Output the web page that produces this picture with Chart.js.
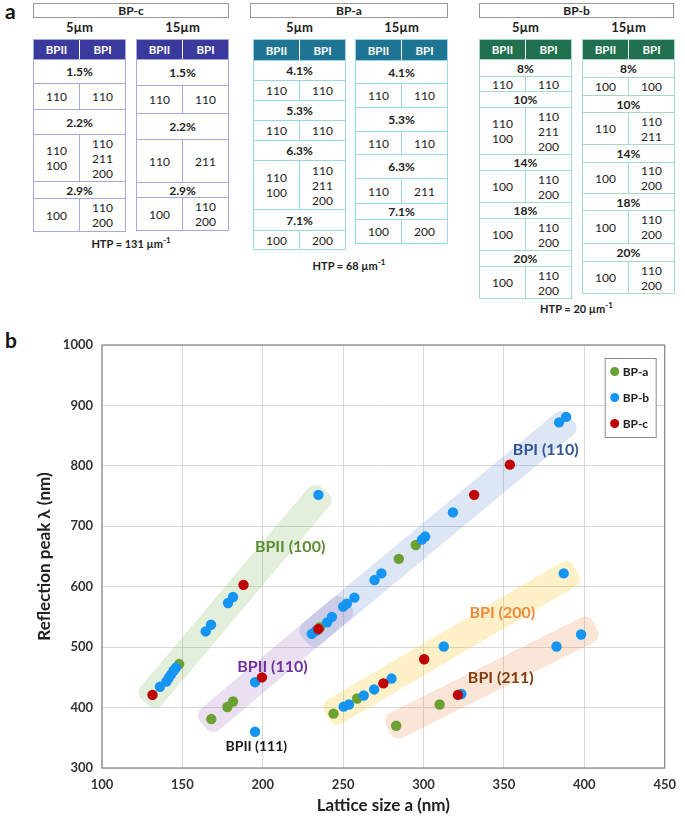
<!DOCTYPE html>
<html>
<head>
<meta charset="utf-8">
<script src="https://cdn.jsdelivr.net/npm/chart.js@4"></script>
<style>
  body { margin: 0; background: #fff; font-family: Lato, "Noto Sans", sans-serif; color: #222; }
  #page { position: relative; width: 685px; height: 822px; overflow: hidden; }
  .abs { position: absolute; }
  .panel { font-weight: bold; font-size: 21px; color: #111; }
  .gbox { border: 1px solid #9a9a9a; box-sizing: border-box; height: 15px; text-align: center;
          font-weight: bold; font-size: 12px; line-height: 13px; }
  .sub { font-weight: bold; font-size: 13px; text-align: center; width: 93px; }
  .tbl { box-sizing: border-box; width: 93px; border: 1.5px solid; display: flex; flex-direction: column; }
  .row { display: flex; box-sizing: border-box; border-top: 1px solid; }
  .row:first-child { border-top: none; }
  .cell { flex: 1; display: flex; align-items: center; justify-content: center; text-align: center;
          font-size: 12px; line-height: 15px; }
  .cell + .cell { border-left: 1px solid; }
  .hd .cell { color: #fff; font-weight: bold; font-size: 11.5px; }
  .pct { font-weight: bold; }
  .htp { font-weight: bold; font-size: 11px; text-align: center; width: 140px; }
</style>
</head>
<body>
<div id="page">
  <div class="abs panel" style="left:5px;top:-2px">a</div>
  <div class="abs panel" style="left:5px;top:327px">b</div>
  <div id="tables"></div>
  <canvas id="scatterChart" class="abs" width="685" height="502" style="left:0;top:320px"></canvas>
</div>
<script>
// ---- panel a: phase tables ----
var bpcRows5 = [['1.5%', ['110'], ['110']], ['2.2%', ['110', '100'], ['110', '211', '200']], ['2.9%', ['100'], ['110', '200']]];
var bpcRows15 = [['1.5%', ['110'], ['110']], ['2.2%', ['110'], ['211']], ['2.9%', ['100'], ['110', '200']]];
var bpaRows5 = [['4.1%', ['110'], ['110']], ['5.3%', ['110'], ['110']], ['6.3%', ['110', '100'], ['110', '211', '200']], ['7.1%', ['100'], ['200']]];
var bpaRows15 = [['4.1%', ['110'], ['110']], ['5.3%', ['110'], ['110']], ['6.3%', ['110'], ['211']], ['7.1%', ['100'], ['200']]];
var bpbRows5 = [['8%', ['110'], ['110']], ['10%', ['110', '100'], ['110', '211', '200']], ['14%', ['100'], ['110', '200']], ['18%', ['100'], ['110', '200']], ['20%', ['100'], ['110', '200']]];
var bpbRows15 = [['8%', ['100'], ['100']], ['10%', ['110'], ['110', '211']], ['14%', ['100'], ['110', '200']], ['18%', ['100'], ['110', '200']], ['20%', ['100'], ['110', '200']]];

// row heights (header first), layout only
var bpcH5 = [19, 24, 26, 25, 47, 17, 33];
var bpcH15 = [19, 26, 28, 26, 43, 15, 33];
var bpaH5 = [20, 20, 20, 20, 20, 20, 49, 21, 19];
var bpaH15 = [20, 23, 24, 24, 23, 24, 25, 16, 24];
var bpbH5 = [19, 17, 15, 16, 47, 16, 32, 16, 32, 16, 32];
var bpbH15 = [19, 18, 18, 17, 32, 18, 31, 17, 33, 18, 32];

var groups = [
  { name: 'BP-c', htp: '131', x: 33, w: 196, head: '#3a3a9e', line: '#a4a8dd', cols: [33, 136],
    rows: [bpcRows5, bpcRows15], heights: [bpcH5, bpcH15], htpY: 235 },
  { name: 'BP-a', htp: '68', x: 250, w: 198, head: '#1d7593', line: '#9bd6e9', cols: [253, 355],
    rows: [bpaRows5, bpaRows15], heights: [bpaH5, bpaH15], htpY: 257 },
  { name: 'BP-b', htp: '20', x: 479, w: 195, head: '#21704f', line: '#a5dcc6', cols: [479, 582],
    rows: [bpbRows5, bpbRows15], heights: [bpbH5, bpbH15], htpY: 300 }
];
var sizes = ['5\u00b5m', '15\u00b5m'];

var holder = document.getElementById('tables');
groups.forEach(function(g) {
  var html = '<div class="abs gbox" style="left:' + g.x + 'px;top:3px;width:' + g.w + 'px">' + g.name + '</div>';
  g.cols.forEach(function(cx, t) {
    html += '<div class="abs sub" style="left:' + cx + 'px;top:19px">' + sizes[t] + '</div>';
    var h = g.heights[t];
    var s = '<div class="abs tbl" style="left:' + cx + 'px;top:39px;border-color:' + g.line + '">';
    s += '<div class="row hd" style="height:' + h[0] + 'px;background:' + g.head + '">' +
         '<div class="cell" style="border-color:#fff">BPII</div><div class="cell" style="border-color:#fff">BPI</div></div>';
    var k = 1;
    g.rows[t].forEach(function(r) {
      s += '<div class="row" style="height:' + h[k++] + 'px;border-color:' + g.line + '"><div class="cell pct">' + r[0] + '</div></div>';
      s += '<div class="row" style="height:' + h[k++] + 'px;border-color:' + g.line + '">' +
           '<div class="cell" style="border-color:' + g.line + '">' + r[1].join('<br>') + '</div>' +
           '<div class="cell" style="border-color:' + g.line + '">' + r[2].join('<br>') + '</div></div>';
    });
    s += '</div>';
    html += s;
  });
  html += '<div class="abs htp" style="left:' + (g.x + g.w / 2 - 70) + 'px;top:' + g.htpY + 'px">HTP = ' + g.htp +
          ' \u00b5m<sup style="font-size:8px">-1</sup></div>';
  holder.insertAdjacentHTML('beforeend', html);
});

// ---- panel b: scatter data ----
var bpaX = [148, 178, 181.5, 168, 235.6, 244, 258.7, 284.6, 295.2, 283, 310];
var bpaY = [472, 401, 410, 381, 533, 390, 415, 646, 669, 370, 405];

var bpbX = [136, 140, 141.5, 143, 144.5, 146, 164.5, 167.8, 178.4, 181.5, 234.6,
            195.2, 230.5, 233, 240, 243, 250, 252.3,
            195.2,
            257, 269.5, 273.8, 299, 301, 318.3, 384.3, 388.7,
            250.3, 253.6, 262.8, 269.3, 280.1, 312.6, 387.2,
            323.5, 382.7, 398];
var bpbY = [434.5, 443, 449, 455, 461, 466, 526, 537, 573, 583, 752,
            442, 522, 527, 541, 550, 567, 572,
            360,
            582, 611, 622, 678, 683, 723, 872, 881,
            401.5, 405, 420, 430, 448, 501, 622,
            422.5, 501, 521];

var bpcX = [131.4, 188, 199.5, 234.6, 331.5, 353.7, 275, 300.4, 321.4];
var bpcY = [421, 603, 450, 530, 752, 802, 440, 480, 421];

var xTicks = [100, 150, 200, 250, 300, 350, 400, 450];
var yTicks = [300, 400, 500, 600, 700, 800, 900, 1000];

// shaded guide bands (data units: start, end) and group labels
var bandNames = ['BPII (100)', 'BPII (110)', 'BPI (110)', 'BPI (200)', 'BPI (211)'];
var bandStart = [[127, 408], [163, 371], [226, 512], [240, 386], [278, 364]];
var bandEnd = [[238.5, 760], [253, 573], [392, 879], [395, 628], [407, 535]];
var bandColor = ['rgba(112,173,71,0.2)', 'rgba(112,48,160,0.15)', 'rgba(68,114,196,0.18)', 'rgba(255,192,0,0.22)', 'rgba(237,125,49,0.2)'];

var labelText = ['BPII (100)', 'BPII (110)', 'BPII (111)', 'BPI (110)', 'BPI (200)', 'BPI (211)'];
var labelX = [217, 206, 196, 376, 349, 348];
var labelY = [666, 467, 336, 826, 557, 449];
var labelColor = ['#5a8a32', '#7030a0', '#1a1a1a', '#2f5597', '#f08a3c', '#843c0c'];

function pts(xs, ys) {
  return xs.map(function(x, i) { return { x: x, y: ys[i] }; });
}

var overlay = {
  id: 'overlay',
  beforeDatasetsDraw: function(chart) {
    var ctx = chart.ctx, xs = chart.scales.x, ys = chart.scales.y;
    ctx.save();
    bandStart.forEach(function(s, i) {
      var x1 = xs.getPixelForValue(s[0]), y1 = ys.getPixelForValue(s[1]);
      var x2 = xs.getPixelForValue(bandEnd[i][0]), y2 = ys.getPixelForValue(bandEnd[i][1]);
      var len = Math.hypot(x2 - x1, y2 - y1);
      ctx.save();
      ctx.translate(x1, y1);
      ctx.rotate(Math.atan2(y2 - y1, x2 - x1));
      ctx.fillStyle = bandColor[i];
      ctx.beginPath();
      ctx.roundRect(0, -14, len, 28, 9);
      ctx.fill();
      ctx.restore();
    });
    ctx.restore();
  },
  afterDatasetsDraw: function(chart) {
    var ctx = chart.ctx, xs = chart.scales.x, ys = chart.scales.y, a = chart.chartArea;
    ctx.save();
    ctx.textAlign = 'center';
    ctx.textBaseline = 'middle';
    labelText.forEach(function(t, i) {
      ctx.font = 'bold ' + (i === 2 ? 14 : 16) + 'px Lato';
      ctx.fillStyle = labelColor[i];
      ctx.fillText(t, xs.getPixelForValue(labelX[i]), ys.getPixelForValue(labelY[i]));
    });
    // frame
    ctx.strokeStyle = '#8c8c8c';
    ctx.lineWidth = 1.3;
    ctx.strokeRect(a.left, a.top, a.right - a.left, a.bottom - a.top);
    // legend box
    var lx = a.right - 60, ly = a.top + 13;
    ctx.fillStyle = '#fff';
    ctx.fillRect(lx, ly, 51, 79);
    ctx.strokeStyle = '#8c8c8c';
    ctx.lineWidth = 1;
    ctx.strokeRect(lx + 0.5, ly + 0.5, 51, 79);
    ctx.textAlign = 'left';
    ctx.font = 'bold 12px Lato';
    chart.data.datasets.forEach(function(d, i) {
      var cy = ly + 13.5 + i * 26;
      ctx.fillStyle = d.backgroundColor;
      ctx.beginPath();
      ctx.arc(lx + 10, cy, 4.5, 0, Math.PI * 2);
      ctx.fill();
      ctx.fillStyle = '#222';
      ctx.fillText(d.label, lx + 18, cy + 1);
    });
    ctx.restore();
  }
};

Chart.defaults.font.family = 'Lato';

var ctx = document.getElementById('scatterChart').getContext('2d');
var scatterChart = new Chart(ctx, {
  type: 'scatter',
  data: {
    datasets: [
      { label: 'BP-a', data: pts(bpaX, bpaY), backgroundColor: '#6aa132', order: 3 },
      { label: 'BP-b', data: pts(bpbX, bpbY), backgroundColor: '#1495f3', order: 2 },
      { label: 'BP-c', data: pts(bpcX, bpcY), backgroundColor: '#c00000', order: 1 }
    ]
  },
  options: {
    responsive: false,
    devicePixelRatio: 1,
    animation: false,
    layout: { padding: { top: 25, right: 12, left: 0, bottom: 0 } },
    elements: { point: { radius: 5.2, borderWidth: 0, hoverRadius: 5.2 } },
    plugins: { legend: { display: false }, tooltip: { enabled: false } },
    scales: {
      x: {
        type: 'linear', min: 100, max: 450,
        afterBuildTicks: function(s) { s.ticks = xTicks.map(function(v) { return { value: v }; }); },
        afterFit: function(s) { s.height = 54; },
        grid: { color: '#d9d9d9', drawTicks: false },
        border: { display: false },
        ticks: { padding: 9, color: '#333', font: { size: 13, weight: 'bold' },
                 callback: function(v) { return String(v); } },
        title: { display: true, text: 'Lattice size a (nm)', color: '#222',
                 font: { size: 17, weight: 'bold' }, padding: { top: 0, bottom: 6 } }
      },
      y: {
        type: 'linear', min: 300, max: 1000,
        afterBuildTicks: function(s) { s.ticks = yTicks.map(function(v) { return { value: v }; }); },
        afterFit: function(s) { s.width = 102; },
        grid: { color: '#d9d9d9', drawTicks: false },
        border: { display: false },
        ticks: { padding: 9, color: '#333', font: { size: 13, weight: 'bold' },
                 callback: function(v) { return String(v); } },
        title: { display: true, text: 'Reflection peak \u03bb (nm)', color: '#222',
                 font: { size: 17, weight: 'bold' }, padding: { top: 34, bottom: 0 } }
      }
    }
  },
  plugins: [overlay]
});
</script>
</body>
</html>
